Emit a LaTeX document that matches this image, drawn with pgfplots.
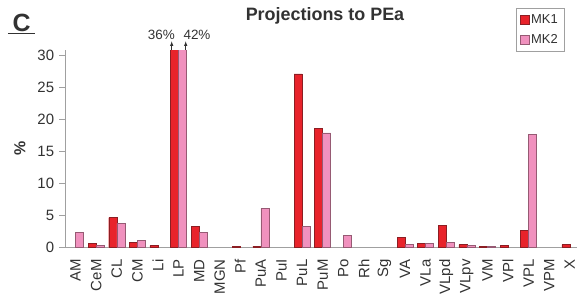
\documentclass[border=0pt]{standalone}
\usepackage{pgfplots}
\pgfplotsset{compat=1.18}
\usepackage{fontspec}
\setmainfont{Liberation Sans}
\definecolor{mkred}{RGB}{232,35,43}
\definecolor{mkredE}{RGB}{140,30,35}
\definecolor{mkpink}{RGB}{240,145,190}
\definecolor{mkpinkE}{RGB}{150,90,115}
\definecolor{axgray}{RGB}{160,160,160}
\definecolor{txt}{RGB}{50,50,50}
\begin{document}
\begin{tikzpicture}[x=1bp,y=1bp]
\useasboundingbox (-65.3,-53.7) rectangle (511.7,247.3);
\begin{axis}[
  at={(0,0)}, anchor=south west,
  scale only axis,
  width=511.7bp, height=197.1bp,
  xmin=-0.5, xmax=24.35,
  ymin=0, ymax=30.8,
  axis x line*=bottom, axis y line*=left,
  axis line style={-, draw=axgray, line width=0.8pt},
  tick align=outside,
  ytick={0,5,...,30},
  ytick style={draw=axgray, line width=0.8pt},
  major tick length=6bp,
  xtick={0,...,24},
  xticklabels={AM,CeM,CL,CM,Li,LP,MD,MGN,Pf,PuA,PuI,PuL,PuM,Po,Rh,Sg,VA,VLa,VLpd,VLpv,VM,VPl,VPL,VPM,X},
  xtick style={draw=none},
  extra x ticks={-0.5,0.5,...,23.5},
  extra x tick labels={},
  extra x tick style={tick style={draw=axgray, line width=0.8pt}},
  xticklabel style={rotate=90, anchor=east, font=\fontsize{15}{15}\selectfont, text=txt, inner xsep=6bp, inner ysep=0bp},
  yticklabel style={font=\fontsize{15}{15}\selectfont, text=txt, inner sep=5bp},
  /pgf/number format/assume math mode=true,
  ybar, bar width=0.39,
  legend style={at={(0.9746,1.214)}, anchor=north east, draw=axgray, font=\fontsize{13}{13}\selectfont, text=txt, row sep=6bp, inner xsep=4bp, inner ysep=4bp, cells={anchor=west}},
  legend image code/.code={\draw[#1] (0bp,-4.5bp) rectangle (9bp,4.5bp);},
  clip=true,
]
\addplot[fill=mkred, draw=mkredE, line width=0.5pt, bar shift=-0.195] coordinates {
 (1,0.56) (2,4.63) (3,0.72) (4,0.26) (5,36) (6,3.22) (8,0.2) (9,0.2)
 (11,27.1) (12,18.6) (16,1.5) (17,0.56) (18,3.38) (19,0.41) (20,0.2) (21,0.36) (22,2.66) (24,0.41)
};
\addplot[fill=mkpink, draw=mkpinkE, line width=0.5pt, bar shift=0.195] coordinates {
 (0,2.28) (1,0.36) (2,3.75) (3,1.03) (5,42) (6,2.28) (9,6.09)
 (11,3.22) (12,17.9) (13,1.92) (16,0.41) (17,0.56) (18,0.72) (19,0.26) (20,0.2) (22,17.7)
};
\legend{MK1,MK2}
\end{axis}
% annotations (axis origin at (0,0); 20.6bp per category, 6.4bp per unit)
\draw[-latex, line width=0.6pt, txt] (106.4,197.1) -- (106.4,206);
\draw[-latex, line width=0.6pt, txt] (120.4,197.1) -- (120.4,206);
\node[anchor=base, text=txt, font=\fontsize{13.5}{13.5}\selectfont, inner sep=0pt] at (96,208) {36\%};
\node[anchor=base, text=txt, font=\fontsize{13.5}{13.5}\selectfont, inner sep=0pt] at (131.7,208) {42\%};
\node[anchor=base, font=\bfseries\fontsize{18}{18}\selectfont, text=txt, inner sep=0pt] at (259.7,227.3) {Projections to PEa};
\node[anchor=base west, font=\bfseries\fontsize{25}{25}\selectfont, text=txt, inner sep=0pt] at (-52.8,215.6) {C};
\draw[txt, line width=1.6pt] (-57.3,213.8) -- (-30.3,213.8);
\node[rotate=90, font=\bfseries\fontsize{16}{16}\selectfont, text=txt, inner sep=0pt] at (-45.3,99) {\%};
\end{tikzpicture}
\end{document}
